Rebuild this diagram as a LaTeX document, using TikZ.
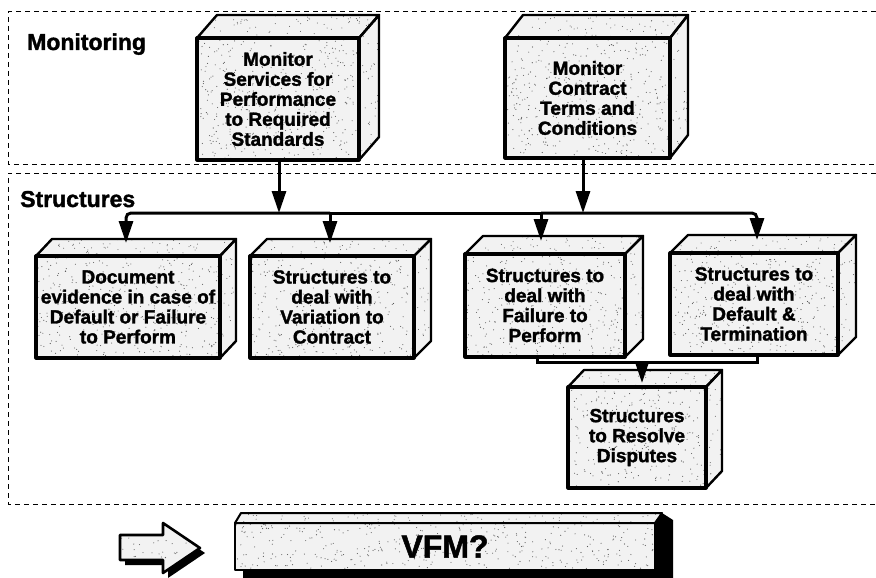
\documentclass[tikz,border=0pt]{standalone}
\usepackage{fontspec}
\setmainfont{Liberation Sans}[BoldFeatures={FakeBold=1.6}]
\usetikzlibrary{arrows.meta,calc}
\tikzset{
  front/.style={draw=black, line width=3.2pt, line join=round, inner sep=0pt, outer sep=0pt,
    align=center, font=\fontsize{19}{20}\selectfont\bfseries},
  face/.style={draw=black, line width=2.4pt, line join=round},
  speck/.style={fill=black!65},
  bg/.style={fill=black!5},
  conn/.style={line width=3pt, -{Triangle[length=22pt,width=14pt]}},
  plainline/.style={line width=3pt},
  region/.style={dash pattern=on 5pt off 4pt, line width=1pt},
  label/.style={font=\fontsize{23}{24}\selectfont\bfseries, anchor=base west, inner sep=0pt},
}
% name, x1, y1, x2, y2, depth-x, depth-y, text
\newcommand\threedbox[8]{%
  \pgfmathsetmacro\bw{#4-#2}\pgfmathsetmacro\bh{#5-#3}%
  \pgfmathtruncatemacro\nf{(\bw/10)*(\bh/5)}%
  \pgfmathtruncatemacro\nt{\bw*#7/60}%
  \pgfmathtruncatemacro\ns{\bh*#6/70}%
  \fill[bg] (#2,#3) rectangle (#4,#5);
  \fill[bg] (#2,#3) -- ++(#6,-#7) -- ({#4+#6},{#3-#7}) -- (#4,#3) -- cycle;
  \fill[bg] (#4,#3) -- ++(#6,-#7) -- ({#4+#6},{#5-#7}) -- (#4,#5) -- cycle;
  \foreach \k in {1,...,\nf}{\fill[speck] ({#2+rnd*\bw},{#3+rnd*\bh}) circle (0.55pt);}
  \foreach \k in {1,...,\nt}{\pgfmathsetmacro\vv{rnd}\fill[speck] ({#2+rnd*\bw+\vv*#6},{#3-\vv*#7}) circle (0.5pt);}
  \foreach \k in {1,...,\ns}{\pgfmathsetmacro\vv{rnd}\fill[speck] ({#4+\vv*#6},{#3+rnd*\bh-\vv*#7}) circle (0.5pt);}
  \node[front, minimum width={#4-#2}, minimum height={#5-#3}] (#1) at ({(#2+#4)/2},{(#3+#5)/2}) {#8};
  \draw[face] (#1.north west) -- ++(#6,-#7) -- ([shift={(#6,-#7)}]#1.north east) -- (#1.north east) -- cycle;
  \draw[face] (#1.north east) -- ++(#6,-#7) -- ([shift={(#6,-#7)}]#1.south east) -- (#1.south east) -- cycle;
}
\begin{document}
\begin{tikzpicture}[x=1pt,y=-1pt]
\pgfmathsetseed{4242}
\useasboundingbox (0,0) rectangle (876,578);

% dashed regions
\draw[region] (876,12) -- (8,12) -- (8,164) -- (876,164);
\draw[region] (876,173) -- (8,173) -- (8,504) -- (876,504);

\node[label] (monlab) at (27,50) {Monitoring};
\node[label] (strlab) at (20,207) {Structures};

% boxes
\threedbox{m1}{197}{38}{359}{160}{20}{23}{Monitor\\Services for\\Performance\\to Required\\Standards}
\threedbox{m2}{505}{38}{670}{158}{18}{23}{Monitor\\Contract\\Terms and\\Conditions}
\threedbox{s1}{36}{256}{220}{358}{16}{17}{Document\\evidence in case of\\Default or Failure\\to Perform}
\threedbox{s2}{250}{256}{414}{358}{17}{17}{Structures to\\deal with\\Variation to\\Contract}
\threedbox{s3}{465}{254}{625}{357}{18}{18}{Structures to\\deal with\\Failure to\\Perform}
\threedbox{s4}{670}{253}{838}{355}{18}{18}{Structures to\\deal with\\Default \&\\Termination}
\threedbox{s5}{568}{387}{706}{488}{16}{17}{Structures\\to Resolve\\Disputes}

% connectors
\coordinate (bus) at (0,213);
\coordinate (brk) at (0,362);
\draw[conn] (m1.south -| 279,0) -- (279,213);
\draw[conn] (m2.south -| 583,0) -- (583,213);
\draw[conn, rounded corners=5pt] ([xshift=-2pt]s2.north |- bus) -- ([xshift=-2pt]s1.north |- bus) -- ([xshift=-2pt,yshift=13pt]s1.north);
\draw[plainline] ([xshift=-2pt]s2.north |- bus) -- ([xshift=-4pt]s3.north |- bus);
\draw[conn] ([xshift=-2pt]s2.north |- bus) -- ([xshift=-2pt,yshift=13pt]s2.north);
\draw[conn] ([xshift=-4pt]s3.north |- bus) -- ([xshift=-4pt,yshift=13pt]s3.north);
\draw[conn, rounded corners=5pt] ([xshift=-4pt]s3.north |- bus) -- ([xshift=3pt]s4.north |- bus) -- ([xshift=3pt,yshift=13pt]s4.north);
\draw[plainline] ([xshift=-8pt]s3.south) -- ([xshift=-8pt]s3.south |- brk) -- ([xshift=3pt]s4.south |- brk) -- ([xshift=3pt]s4.south);
\draw[conn] ([xshift=5pt]s5.north |- brk) -- ([xshift=5pt,yshift=4pt]s5.north);

% block arrow
\fill[black] (125,540) -- (168,540) -- (168,528) -- (205,553) -- (168,578) -- (168,565) -- (125,565) -- cycle;
\begin{scope}
  \clip (120,535) -- (163,535) -- (163,523) -- (200,548) -- (163,573) -- (163,560) -- (120,560) -- cycle;
  \fill[bg] (115,518) rectangle (205,578);
  \foreach \k in {1,...,50}{\fill[speck] ({120+rnd*80},{523+rnd*50}) circle (0.55pt);}
\end{scope}
\draw[face, line width=2.6pt] (120,535) -- (163,535) -- (163,523) -- (200,548) -- (163,573) -- (163,560) -- (120,560) -- cycle;

% VFM bar
\fill[black] (243,560) rectangle (673,578);
\fill[black] (650,513) -- (662,513) -- (673,520) -- (673,578) -- (650,578) -- cycle;
\fill[bg] (235,523) rectangle (655,570);
\fill[bg] (235,523) -- (241,513) -- (662,513) -- (655,523) -- cycle;
\foreach \k in {1,...,380}{\fill[speck] ({235+rnd*420},{523+rnd*47}) circle (0.55pt);}
\foreach \k in {1,...,60}{\fill[speck] ({240+rnd*420},{514+rnd*8}) circle (0.5pt);}
\node[front, line width=2.8pt, minimum width=420, minimum height=47, font=\fontsize{32}{34}\selectfont\bfseries] (vfm) at (445,546.5) {VFM?};
\draw[face, line width=2pt] (vfm.north west) -- ++(6,-10) -- ([shift={(7,-10)}]vfm.north east) -- (vfm.north east) -- cycle;
\end{tikzpicture}
\end{document}
